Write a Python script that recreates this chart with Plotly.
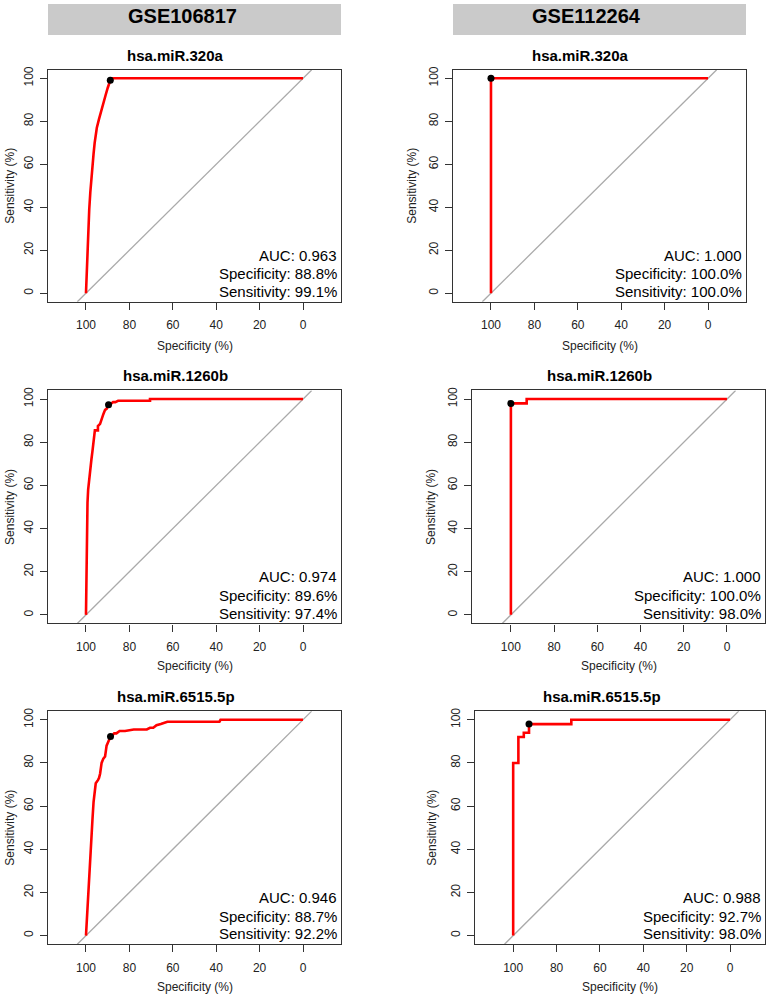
import plotly.graph_objects as go

# ROC curves (specificity %, sensitivity %)
datasets = ["GSE106817", "GSE112264"]
mirnas = ["hsa.miR.320a", "hsa.miR.1260b", "hsa.miR.6515.5p"]

spec_106817_320a = [100, 99.5, 99.0, 98.5, 98.0, 97.5, 97.0, 96.5, 96.0, 95.5, 95.0, 94.0,
                    93.0, 92.0, 91.0, 90.0, 89.3, 88.8, 88.5, 0]
sens_106817_320a = [0, 15, 28, 39, 47, 54, 60, 65, 70, 74, 77, 81,
                    85, 88.5, 92, 95.5, 98, 99.1, 100, 100]

spec_112264_320a = [100, 100, 0]
sens_112264_320a = [0, 100, 100]

spec_106817_1260b = [100, 99.8, 99.6, 99.3, 99.0, 98.5, 98.0, 97.5, 97.0, 96.5, 95.9, 95.9,
                     94.5, 94.5, 93.5, 92.8, 92.0, 91.2, 90.5, 89.6, 88.5, 87.5, 86.5, 85.2,
                     85.2, 70.5, 70.5, 0]
sens_106817_1260b = [0, 20, 43, 52, 58, 64, 68, 72, 76, 80, 83, 85.5,
                     85.5, 87.5, 88.5, 91, 93, 95, 95.5, 97.4, 97.8, 98.6, 98.6, 99.2,
                     99.2, 99.2, 100, 100]

spec_112264_1260b = [100, 100, 92.7, 92.7, 0]
sens_112264_1260b = [0, 98, 98, 100, 100]

spec_106817_6515 = [100, 99.5, 99.0, 98.5, 98.0, 97.5, 97.0, 96.5, 96.0, 95.5, 94.5, 94.0,
                    93.5, 92.8, 92.0, 91.2, 90.5, 89.5, 88.7, 88.0, 87.0, 86.0, 84.5, 82.0,
                    79.0, 78.0, 72.0, 70.5, 69.0, 67.5, 65.5, 63.0, 62.5, 38.5, 38.0, 0]
sens_106817_6515 = [0, 10, 20, 28, 36, 46, 54, 62, 68, 70.6, 72, 73,
                    75, 80, 82, 83, 88, 90.5, 92.2, 92.6, 93.7, 93.7, 94.8, 94.8,
                    95.5, 95.5, 95.5, 96.3, 96.3, 97.5, 98.0, 98.8, 99.1, 99.1, 100, 100]

spec_112264_6515 = [100, 100, 97.6, 97.6, 95.1, 95.1, 92.7, 92.7, 73.2, 73.2, 0]
sens_112264_6515 = [0, 80, 80, 92, 92, 94, 94, 98, 98, 100, 100]

auc_values = [0.963, 1.000, 0.974, 1.000, 0.946, 0.988]
best_spec = [88.8, 100.0, 89.6, 100.0, 88.7, 92.7]
best_sens = [99.1, 100.0, 97.4, 98.0, 92.2, 98.0]

x_ticks = [100, 80, 60, 40, 20, 0]
y_ticks = [0, 20, 40, 60, 80, 100]

curves = [
    (spec_106817_320a, sens_106817_320a),
    (spec_112264_320a, sens_112264_320a),
    (spec_106817_1260b, sens_106817_1260b),
    (spec_112264_1260b, sens_112264_1260b),
    (spec_106817_6515, sens_106817_6515),
    (spec_112264_6515, sens_112264_6515),
]

W, H = 770, 995
FONT = "Liberation Sans, Arial, Helvetica, sans-serif"

# plot boxes in pixels: left, right, top, bottom
boxes = [
    (48, 341, 66, 299), (453, 746, 66, 299),
    (48, 341, 388, 622), (472, 765, 388, 622),
    (48, 341, 710, 944), (475, 765, 710, 944),
]
x_ranges = [[117.5, -17.5], [117.5, -17.5], [117.5, -17.5],
            [118, -17.6], [117.5, -17.5], [117.6, -16.1]]
y_range = [-4, 104]
title_pos = [(175, 52), (580, 52), (175, 373), (599, 373), (176, 695), (602, 695)]
ytitle_x = [10, 412, 10, 431, 10, 432]
xtitle_y = [343, 343, 665, 665, 987, 987]


def px(v):
    return v / W


def py(v):
    return 1 - v / H


fig = go.Figure()
annotations = []
shapes = []

for i, (spec, sens) in enumerate(curves):
    n = "" if i == 0 else str(i + 1)
    xa, ya = "x" + n, "y" + n
    # chance diagonal across the whole plot area
    fig.add_trace(go.Scatter(x=[100 - v for v in y_range], y=y_range, mode="lines",
                             line=dict(color="#aaaaaa", width=1.3),
                             xaxis=xa, yaxis=ya, showlegend=False, hoverinfo="skip"))
    fig.add_trace(go.Scatter(x=spec, y=sens, mode="lines",
                             line=dict(color="#ff0000", width=2.6),
                             xaxis=xa, yaxis=ya, showlegend=False))
    fig.add_trace(go.Scatter(x=[best_spec[i]], y=[best_sens[i]], mode="markers",
                             marker=dict(color="black", size=7),
                             xaxis=xa, yaxis=ya, showlegend=False))

    l, r, t, b = boxes[i]
    axis_common = dict(showline=True, mirror=True, linecolor="#333333", linewidth=1.3,
                       ticks="outside", ticklen=7, tickwidth=1, tickcolor="#333333",
                       showgrid=False, zeroline=False,
                       tickfont=dict(family=FONT, size=12, color="#222222"))
    fig.update_layout(**{
        "xaxis" + n: dict(domain=[px(l), px(r)], range=x_ranges[i], anchor=ya,
                          tickvals=x_ticks, ticklabelstandoff=5, **axis_common),
        "yaxis" + n: dict(domain=[py(b), py(t)], range=y_range, anchor=xa,
                          tickvals=y_ticks, tickangle=-90, ticklabelstandoff=2, **axis_common),
    })

    tx, ty = title_pos[i]
    annotations.append(dict(text=mirnas[i // 2], x=px(tx), y=py(ty), xref="paper", yref="paper",
                            showarrow=False, xanchor="center", yanchor="middle",
                            font=dict(family=FONT, size=15, color="black", weight="bold")))
    annotations.append(dict(text="Specificity (%)", x=px((l + r) / 2), y=py(xtitle_y[i]),
                            xref="paper", yref="paper", showarrow=False,
                            xanchor="center", yanchor="middle",
                            font=dict(family=FONT, size=12, color="#222222")))
    annotations.append(dict(text="Sensitivity (%)", x=px(ytitle_x[i]), y=py((t + b) / 2),
                            xref="paper", yref="paper", showarrow=False, textangle=-90,
                            xanchor="center", yanchor="middle",
                            font=dict(family=FONT, size=12, color="#222222")))
    stats = [f"AUC: {auc_values[i]:.3f}",
             f"Specificity: {best_spec[i]:.1f}%",
             f"Sensitivity: {best_sens[i]:.1f}%"]
    for s, yy in zip(stats, [0.2, 0.12, 0.045]):
        annotations.append(dict(text=s, x=0.993, y=yy, xref=xa + " domain", yref=ya + " domain",
                                showarrow=False, xanchor="right", yanchor="middle",
                                font=dict(family=FONT, size=15, color="black")))

# dataset header strips
headers = [(48, 341, 182), (453, 746, 586)]
for name, (l, r, cx) in zip(datasets, headers):
    shapes.append(dict(type="rect", xref="paper", yref="paper",
                       x0=px(l), x1=px(r), y0=py(31), y1=py(0),
                       fillcolor="#cacaca", line=dict(width=0), layer="below"))
    annotations.append(dict(text=name, x=px(cx), y=py(12), xref="paper", yref="paper",
                            showarrow=False, xanchor="center", yanchor="middle",
                            font=dict(family=FONT, size=20, color="black", weight="bold")))

fig.update_layout(width=W, height=H, margin=dict(l=0, r=0, t=0, b=0),
                  paper_bgcolor="white", plot_bgcolor="white",
                  annotations=annotations, shapes=shapes, showlegend=False)

# drop the default page margin so the fixed-size figure sits at the window corner
fig.write_html("out.html", config={"displayModeBar": False},
               post_script="document.documentElement.style.margin='0';"
                           "document.body.style.margin='0';"
                           "document.body.style.overflow='hidden';")
